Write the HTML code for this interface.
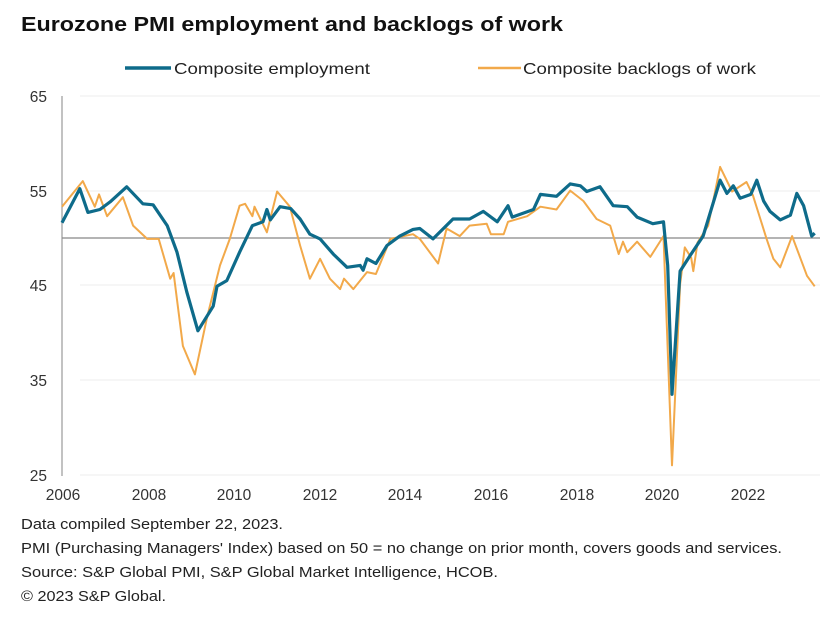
<!DOCTYPE html>
<html><head><meta charset="utf-8"><style>
html,body{margin:0;padding:0;background:#fff;}
svg{display:block;font-family:"Liberation Sans",Arial,sans-serif;}
</style></head><body>
<svg id="s" width="838" height="621" viewBox="0 0 838 621" xmlns="http://www.w3.org/2000/svg">
<rect width="838" height="621" fill="#fff"/>
<text x="21" y="31" font-size="20.5" font-weight="bold" fill="#111" textLength="542" lengthAdjust="spacingAndGlyphs">Eurozone PMI employment and backlogs of work</text>
<line x1="125" y1="68" x2="171" y2="68" stroke="#0e6b8a" stroke-width="3.5"/>
<text x="174" y="74" font-size="16" fill="#222" textLength="196" lengthAdjust="spacingAndGlyphs">Composite employment</text>
<line x1="478" y1="68" x2="521" y2="68" stroke="#f2a94a" stroke-width="2.5"/>
<text x="523" y="74" font-size="16" fill="#222" textLength="233" lengthAdjust="spacingAndGlyphs">Composite backlogs of work</text>
<g stroke="#eeeeee" stroke-width="1">
<line x1="80" y1="96" x2="820" y2="96"/><line x1="80" y1="191" x2="820" y2="191"/>
<line x1="80" y1="285" x2="820" y2="285"/><line x1="80" y1="380" x2="820" y2="380"/>
<line x1="80" y1="475" x2="820" y2="475"/>
</g>
<line x1="62" y1="96" x2="62" y2="476" stroke="#999" stroke-width="1.2"/>
<line x1="62" y1="238" x2="820" y2="238" stroke="#888" stroke-width="1.3"/>
<g font-size="15.5" fill="#333" text-anchor="end">
<text x="47" y="102">65</text><text x="47" y="197">55</text><text x="47" y="291">45</text>
<text x="47" y="386">35</text><text x="47" y="481">25</text>
</g>
<g font-size="15.5" fill="#333" text-anchor="middle">
<text x="63" y="500">2006</text><text x="149" y="500">2008</text><text x="234" y="500">2010</text>
<text x="320" y="500">2012</text><text x="405" y="500">2014</text><text x="491" y="500">2016</text>
<text x="577" y="500">2018</text><text x="662" y="500">2020</text><text x="748" y="500">2022</text>
</g>
<polyline id="o" fill="none" stroke="#f2a94a" stroke-width="2" stroke-linejoin="round"/>
<polyline id="b" fill="none" stroke="#0e6b8a" stroke-width="3.2" stroke-linejoin="round"/>
<g font-size="14.5" fill="#222">
<text x="21" y="529" textLength="262" lengthAdjust="spacingAndGlyphs">Data compiled September 22, 2023.</text>
<text x="21" y="553" textLength="761" lengthAdjust="spacingAndGlyphs">PMI (Purchasing Managers' Index) based on 50 = no change on prior month, covers goods and services.</text>
<text x="21" y="577" textLength="477" lengthAdjust="spacingAndGlyphs">Source: S&amp;P Global PMI, S&amp;P Global Market Intelligence, HCOB.</text>
<text x="21" y="601" textLength="145" lengthAdjust="spacingAndGlyphs">© 2023 S&amp;P Global.</text>
</g>
</svg>
<script>
var B=[[2005.93,51.5],[2006.35,55.1],[2006.54,52.6],[2006.82,52.9],[2007.06,53.7],[2007.45,55.3],[2007.83,53.5],[2008.07,53.4],[2008.4,51.2],[2008.63,48.4],[2008.86,44.2],[2009.12,40.1],[2009.48,42.7],[2009.57,44.8],[2009.8,45.4],[2010.1,48.4],[2010.4,51.2],[2010.65,51.6],[2010.74,52.9],[2010.82,51.8],[2011.05,53.2],[2011.3,53],[2011.52,51.9],[2011.75,50.3],[2011.99,49.8],[2012.3,48.2],[2012.62,46.8],[2012.93,47],[2013.0,46.5],[2013.09,47.7],[2013.3,47.2],[2013.56,49.1],[2013.86,50.1],[2014.17,50.8],[2014.33,50.9],[2014.64,49.8],[2015.11,51.9],[2015.5,51.9],[2015.82,52.7],[2016.15,51.6],[2016.4,53.3],[2016.5,52.1],[2017.0,52.9],[2017.16,54.5],[2017.54,54.3],[2017.86,55.6],[2018.1,55.4],[2018.25,54.8],[2018.56,55.3],[2018.87,53.3],[2019.2,53.2],[2019.43,52.1],[2019.8,51.4],[2020.05,51.6],[2020.15,47],[2020.25,33.4],[2020.44,46.4],[2020.67,48.0],[2020.98,50.1],[2021.38,56],[2021.54,54.6],[2021.69,55.4],[2021.85,54.1],[2022.1,54.5],[2022.24,56],[2022.4,53.8],[2022.55,52.7],[2022.79,51.8],[2023.03,52.3],[2023.18,54.6],[2023.34,53.3],[2023.53,50.1],[2023.6,50.4]];
var O=[[2005.93,53.2],[2006.42,55.9],[2006.7,53.2],[2006.8,54.5],[2006.99,52.2],[2007.36,54.2],[2007.6,51.2],[2007.93,49.8],[2008.2,49.8],[2008.47,45.6],[2008.55,46.2],[2008.77,38.5],[2009.05,35.5],[2009.33,41.4],[2009.64,47],[2009.87,49.8],[2010.1,53.3],[2010.23,53.5],[2010.4,52.2],[2010.45,53.2],[2010.74,50.5],[2010.98,54.8],[2011.28,53.2],[2011.52,49.1],[2011.75,45.6],[2011.99,47.7],[2012.22,45.6],[2012.46,44.5],[2012.55,45.6],[2012.77,44.5],[2013.09,46.3],[2013.3,46.1],[2013.64,49.8],[2014.17,50.3],[2014.33,49.8],[2014.76,47.2],[2014.96,50.9],[2015.27,50.1],[2015.5,51.2],[2015.9,51.4],[2016.0,50.3],[2016.3,50.3],[2016.4,51.6],[2016.85,52.2],[2017.16,53.2],[2017.54,52.9],[2017.86,54.9],[2018.17,53.8],[2018.48,51.9],[2018.8,51.2],[2019.0,48.2],[2019.1,49.5],[2019.2,48.4],[2019.43,49.5],[2019.74,47.9],[2020.05,50.1],[2020.25,25.9],[2020.44,45],[2020.55,48.9],[2020.7,47.8],[2020.75,46.4],[2020.85,49.4],[2021.1,51.2],[2021.38,57.4],[2021.66,54.8],[2022.0,55.8],[2022.15,54.4],[2022.47,49.8],[2022.63,47.7],[2022.79,46.8],[2023.07,50.1],[2023.42,45.9],[2023.6,44.8]];
function X(t){return 197+42.6*(t-2009.1);}
function Y(v){return 237+(50-v)*9.475;}
function pts(a){return a.map(function(p){return X(p[0]).toFixed(1)+","+Y(p[1]).toFixed(1);}).join(" ");}
document.getElementById("b").setAttribute("points",pts(B));
document.getElementById("o").setAttribute("points",pts(O));
</script>
</body></html>
